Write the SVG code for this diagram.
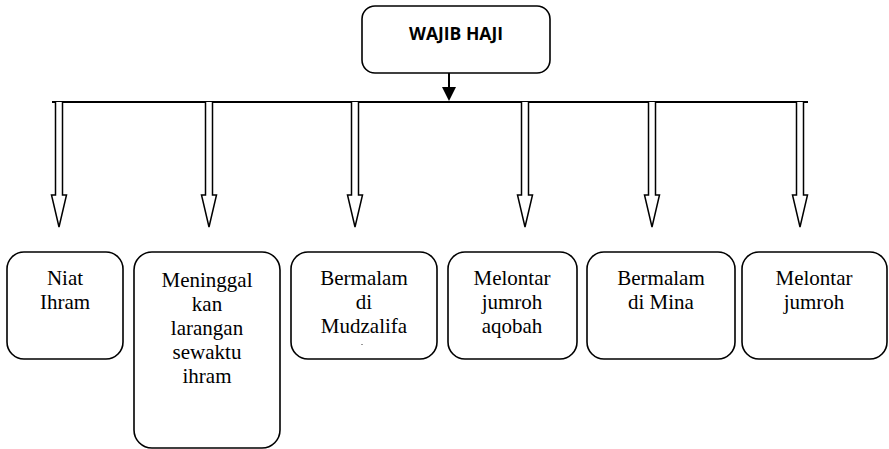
<svg xmlns="http://www.w3.org/2000/svg" width="889" height="449" viewBox="0 0 889 449">
<style>
.box{fill:#fff;stroke:#000;stroke-width:1.6}
.ha{fill:#fff;stroke:#000;stroke-width:1.5;stroke-linejoin:miter}
</style>
<defs>
<path id="ha" class="ha" d="M-3.5,0 V93 H-7.5 L0,125 L7.5,93 H3.5 V0"/>
</defs>
<rect width="889" height="449" fill="#fff"/>
<g id="connectors">
<line x1="449" y1="73" x2="449" y2="88" stroke="#000" stroke-width="2"/>
<polygon points="442,87 456,87 449,101" fill="#000"/>
<line x1="52" y1="102" x2="808" y2="102" stroke="#000" stroke-width="2"/>
<use href="#ha" x="59" y="102"/>
<use href="#ha" x="209" y="102"/>
<use href="#ha" x="355" y="102"/>
<use href="#ha" x="525" y="102"/>
<use href="#ha" x="652" y="102"/>
<use href="#ha" x="800" y="102"/>
</g>
<g id="wajib-haji">
<rect class="box" x="362" y="6" width="188" height="67" rx="13"/>
<text x="456" y="40" font-family="Open Sans, Liberation Sans, sans-serif" font-weight="bold" font-size="17.5" text-anchor="middle">WAJIB HAJI</text>
</g>
<g font-family="Liberation Serif, serif" font-size="21" text-anchor="middle" fill="#000">
<g id="niat-ihram">
<rect class="box" x="7" y="252" width="116" height="107" rx="17"/>
<text x="65" y="285">Niat</text>
<text x="65" y="309">Ihram</text>
</g>
<g id="meninggalkan">
<rect class="box" x="134" y="252" width="146" height="196" rx="18"/>
<text x="207" y="287">Meninggal</text>
<text x="207" y="311">kan</text>
<text x="207" y="335">larangan</text>
<text x="207" y="359">sewaktu</text>
<text x="207" y="383">ihram</text>
</g>
<g id="mudzalifa">
<rect class="box" x="291" y="252" width="146" height="107" rx="17"/>
<text x="364" y="285">Bermalam</text>
<text x="364" y="309">di</text>
<text x="364" y="333">Mudzalifa</text>
<rect x="361" y="344" width="2" height="1" fill="#999"/>
</g>
<g id="jumroh-aqobah">
<rect class="box" x="448" y="252" width="129" height="107" rx="17"/>
<text x="512" y="285">Melontar</text>
<text x="512" y="309">jumroh</text>
<text x="512" y="333">aqobah</text>
</g>
<g id="mina">
<rect class="box" x="587" y="252" width="148" height="107" rx="17"/>
<text x="661" y="285">Bermalam</text>
<text x="661" y="309">di Mina</text>
</g>
<g id="jumroh">
<rect class="box" x="742" y="252" width="145" height="107" rx="17"/>
<text x="814" y="285">Melontar</text>
<text x="814" y="309">jumroh</text>
</g>
</g>
</svg>
